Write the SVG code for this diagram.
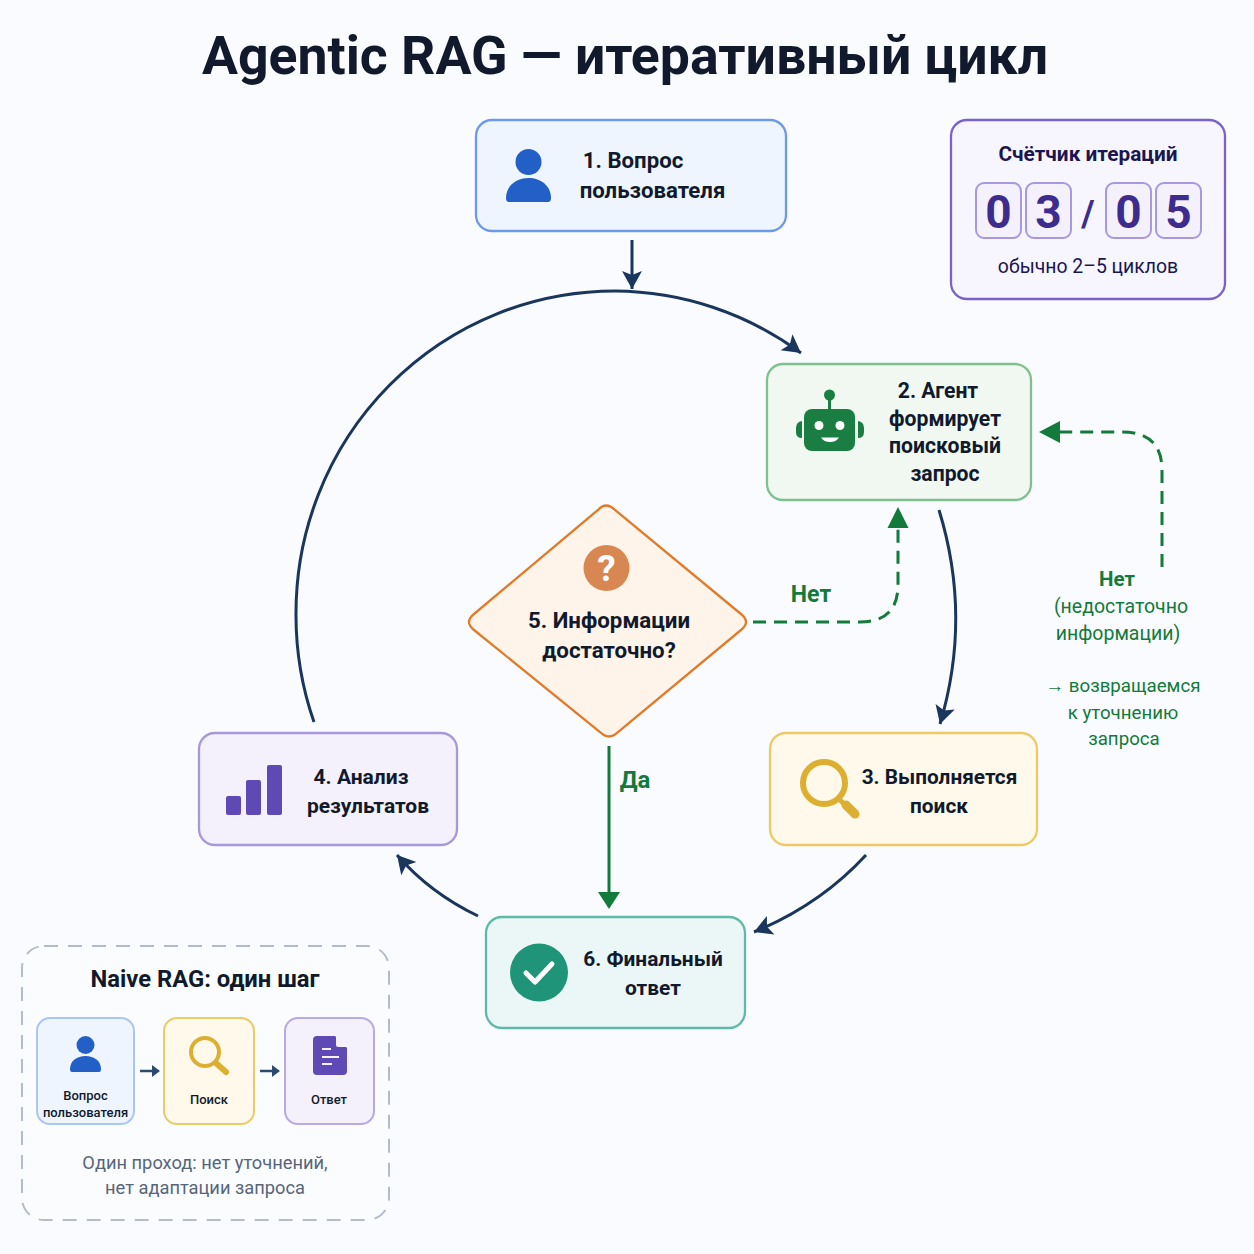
<svg xmlns="http://www.w3.org/2000/svg" width="1254" height="1254" viewBox="0 0 1254 1254">
<style>
text{font-family:Roboto,"Liberation Sans",sans-serif;text-anchor:middle;fill:#101a2c}
.t{font-weight:700}
.c{fill:none;stroke:#1a365d;stroke-width:3}
.g{fill:none;stroke:#127a3a;stroke-width:3}
.d{stroke-dasharray:13 8}
.gt{fill:#127a3a}
.dg{fill:#f4f1fd;stroke:#a898e0;stroke-width:2}
.dt{font-size:46px;font-weight:700;fill:#3d2c8d}
.s{font-size:13px;font-weight:500}
</style>
<defs>
<marker id="navy" markerUnits="userSpaceOnUse" markerWidth="24" markerHeight="24" viewBox="0 0 24 24" refX="20" refY="12" orient="auto"><path d="M2,2 L20,12 L2,22 L6,12 Z" fill="#1a365d"/></marker>
</defs>
<rect width="1254" height="1254" fill="#fafbfe"/>
<text x="625" y="74" font-size="53.600" font-weight="700">Agentic RAG — итеративный цикл</text>
<g id="connectors">
<path class="c" d="M632,240 V289" marker-end="url(#navy)"/>
<path class="c" d="M314,722 A319,322 0 0 1 296,613 A319,322 0 0 1 615,291 A319,322 0 0 1 801,353" marker-end="url(#navy)"/>
<path class="c" d="M939,510 Q972,617 940,724" marker-end="url(#navy)"/>
<path class="c" d="M866,855 Q820,905 754,932" marker-end="url(#navy)"/>
<path class="c" d="M478,916 Q430,893 397,855" marker-end="url(#navy)"/>
<path class="g d" d="M1162,567 V470 Q1162,432 1122,432 H1056"/>
<path d="M1039,432 L1060,421 V443 Z" fill="#127a3a"/>
<path class="g d" d="M753,622 H860 Q898,622 898,585 V526"/>
<path d="M898,507 L887.500,528 H908.500 Z" fill="#127a3a"/>
<path class="g" d="M609,746 V893"/>
<path d="M609,909 L598,892 H620 Z" fill="#127a3a"/>
</g>
<g id="labels">
<text class="gt" x="811" y="602" font-size="23" font-weight="700">Нет</text>
<text class="gt" x="635" y="788" font-size="24" font-weight="700">Да</text>
<text class="gt" x="1117" y="586" font-size="20.500" font-weight="700">Нет</text>
<text class="gt" x="1121" y="613" font-size="19.500">(недостаточно</text>
<text class="gt" x="1118" y="640" font-size="19.500">информации)</text>
<text class="gt" x="1123" y="692" font-size="18.700">→ возвращаемся</text>
<text class="gt" x="1123" y="719" font-size="18.700">к уточнению</text>
<text class="gt" x="1124" y="745" font-size="18.700">запроса</text>
</g>
<g id="node1">
<rect x="476" y="120" width="310" height="111" rx="16" fill="#eff5fe" stroke="#6d9ae8" stroke-width="2.300"/>
<circle cx="528.500" cy="162" r="13" fill="#2260c8"/>
<path d="M506,198 C506,186 516,178 528.500,178 C541,178 551,186 551,198 Q551,202 548,202 H509 Q506,202 506,198 Z" fill="#2260c8"/>
<text class="t" font-size="22.200" x="633" y="168">1. Вопрос</text>
<text class="t" font-size="22.200" x="652.500" y="198">пользователя</text>
</g>
<g id="counter">
<rect x="951" y="120" width="274" height="179" rx="16" fill="#f7f5fe" stroke="#7a62c8" stroke-width="2.300"/>
<text x="1088" y="161" font-size="20.800" font-weight="700" style="fill:#1a1650">Счётчик итераций</text>
<rect class="dg" x="976" y="183" width="45" height="55" rx="8"/>
<rect class="dg" x="1026" y="183" width="45" height="55" rx="8"/>
<rect class="dg" x="1106" y="183" width="45" height="55" rx="8"/>
<rect class="dg" x="1156" y="183" width="45" height="55" rx="8"/>
<text class="dt" x="998.500" y="228">0</text>
<text class="dt" x="1048.500" y="228">3</text>
<text x="1088" y="226" font-size="36" font-weight="700" style="fill:#3d2c8d">/</text>
<text class="dt" x="1128.500" y="228">0</text>
<text class="dt" x="1178.500" y="228">5</text>
<text x="1088" y="273" font-size="19.400" style="fill:#1a1650">обычно 2–5 циклов</text>
</g>
<g id="node2">
<rect x="767" y="364" width="264" height="136" rx="16" fill="#f0f8f1" stroke="#7fc08f" stroke-width="2.300"/>
<path d="M829.500,395 V410" stroke="#1a7d42" stroke-width="3"/>
<circle cx="829.500" cy="395" r="5.500" fill="#1a7d42"/>
<rect x="804" y="409" width="51" height="42" rx="8" fill="#1a7d42"/>
<path d="M802,421 Q796,422 796,428 V432 Q796,438 802,438 Z M858,421 Q864,422 864,428 V432 Q864,438 858,438 Z" fill="#1a7d42"/>
<circle cx="819" cy="425.500" r="4.500" fill="#fff"/>
<circle cx="840" cy="425.500" r="4.500" fill="#fff"/>
<path d="M821,437.500 H839 Q836,442 830,442 Q824,442 821,437.500 Z" fill="#fff"/>
<text class="t" font-size="21.200" x="938" y="398">2. Агент</text>
<text class="t" font-size="21.200" x="945" y="426">формирует</text>
<text class="t" font-size="21.200" x="945" y="453">поисковый</text>
<text class="t" font-size="21.200" x="945" y="481">запрос</text>
</g>
<g id="node3">
<rect x="770" y="733" width="267" height="112" rx="16" fill="#fef9ea" stroke="#eccb67" stroke-width="2.300"/>
<circle cx="824" cy="783" r="21" fill="none" stroke="#dcaf30" stroke-width="6"/>
<path d="M840,800 L846,806" stroke="#dcaf30" stroke-width="5"/>
<path d="M846,805 L855,814" stroke="#dcaf30" stroke-width="9" stroke-linecap="round"/>
<text class="t" font-size="20.800" x="939.500" y="783.500">3. Выполняется</text>
<text class="t" font-size="20.800" x="939" y="812.500">поиск</text>
</g>
<g id="node4">
<rect x="199" y="733" width="258" height="112" rx="16" fill="#f4f0fc" stroke="#a898da" stroke-width="2.300"/>
<rect x="226" y="796" width="15" height="19" rx="2" fill="#5f49b5"/>
<rect x="246" y="780" width="15" height="35" rx="2" fill="#5f49b5"/>
<rect x="267" y="765" width="15" height="50" rx="2" fill="#5f49b5"/>
<text class="t" font-size="21" x="361" y="783.500">4. Анализ</text>
<text class="t" font-size="21" x="368" y="812.500">результатов</text>
</g>
<g id="node5">
<path d="M598,510 Q606,501 615,510 L741,614 Q751,622 741,630 L618,732 Q609,741 600,732 L474,630 Q464,622 474,614 Z" fill="#fef4ea" stroke="#e07b2a" stroke-width="2.300"/>
<circle cx="606.500" cy="568" r="23" fill="#d98752"/>
<text x="606.500" y="581" font-size="37" font-weight="700" style="fill:#fff">?</text>
<text class="t" font-size="22.300" x="609" y="628">5. Информации</text>
<text class="t" font-size="22.300" x="609" y="658">достаточно?</text>
</g>
<g id="node6">
<rect x="486" y="917" width="259" height="111" rx="16" fill="#ebf7f6" stroke="#5dbaa8" stroke-width="2.300"/>
<circle cx="539" cy="972.500" r="29" fill="#1f9478"/>
<path d="M526,973 L535,982 L552,964" fill="none" stroke="#fff" stroke-width="5" stroke-linecap="round" stroke-linejoin="round"/>
<text class="t" font-size="20.900" x="653" y="966">6. Финальный</text>
<text class="t" font-size="20.900" x="653" y="995">ответ</text>
</g>
<g id="naive">
<rect x="22" y="946" width="367" height="274" rx="22" fill="#fbfcfe" stroke="#b4bcc8" stroke-width="2" stroke-dasharray="14 10"/>
<text x="205" y="987" font-size="23.800" font-weight="700">Naive RAG: один шаг</text>
<g id="naive-q">
<rect x="37" y="1018" width="97" height="106" rx="13" fill="#eff5fe" stroke="#aac6f2" stroke-width="2"/>
<circle cx="85.500" cy="1045" r="9" fill="#2260c8"/>
<path d="M70,1069 C70,1061 77,1056 85.500,1056 C94,1056 101,1061 101,1069 Q101,1072 99,1072 H72 Q70,1072 70,1069 Z" fill="#2260c8"/>
<text class="s" x="85.500" y="1100">Вопрос</text>
<text class="s" x="85.500" y="1117">пользователя</text>
</g>
<g id="naive-s">
<rect x="164" y="1018" width="90" height="106" rx="13" fill="#fef9ea" stroke="#eccb67" stroke-width="2"/>
<circle cx="205" cy="1052" r="14" fill="none" stroke="#dcaf30" stroke-width="4"/>
<path d="M217,1064 L226,1072" stroke="#dcaf30" stroke-width="6" stroke-linecap="round"/>
<text class="s" x="209" y="1104">Поиск</text>
</g>
<g id="naive-a">
<rect x="285" y="1018" width="89" height="106" rx="13" fill="#f4f0fc" stroke="#b9a9e4" stroke-width="2"/>
<path d="M317,1036 H335 L347,1048 V1071 Q347,1075 343,1075 H317 Q313,1075 313,1071 V1040 Q313,1036 317,1036 Z" fill="#5f49b5"/>
<path d="M336,1036 L347,1047 H338 Q336,1047 336,1045 Z" fill="#f4f0fc"/>
<path d="M322,1049 H331 M322,1057 H339 M322,1064 H332" stroke="#f4f0fc" stroke-width="1.800" fill="none"/>
<text class="s" x="329" y="1104">Ответ</text>
</g>
<path d="M140,1071 H153 M260,1071 H273" stroke="#2c4a6e" stroke-width="2.500" fill="none"/>
<path d="M160,1071 L152,1065 V1077 Z M280,1071 L272,1065 V1077 Z" fill="#2c4a6e"/>
<text x="205" y="1169" font-size="18.300" style="fill:#56657a">Один проход: нет уточнений,</text>
<text x="205" y="1194" font-size="18.300" style="fill:#56657a">нет адаптации запроса</text>
</g>
</svg>
